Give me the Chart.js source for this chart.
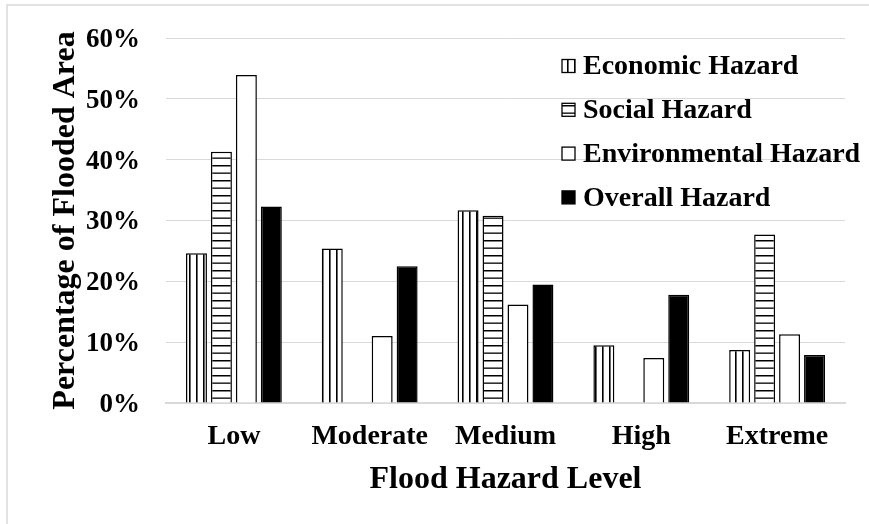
<!DOCTYPE html>
<html>
<head>
<meta charset="utf-8">
<script src="https://cdn.jsdelivr.net/npm/chart.js@4"></script>
<style>
  html, body { margin: 0; padding: 0; background: #fff; }
  #wrap { width: 869px; height: 524px; }
</style>
</head>
<body>
<div id="wrap"><canvas id="chart" width="869" height="524"></canvas></div>
<script>
// -------------------------
// DATA
// -------------------------
const levels = ["Low", "Moderate", "Medium", "High", "Extreme"];
const economic = [24.6, 25.4, 31.7, 9.5, 8.7];
const social = [41.3, null, 30.8, null, 27.7];
const environmental = [53.9, 11.0, 16.2, 7.4, 11.3];
const overall = [32.3, 22.5, 19.5, 17.8, 7.9];
const yTicks = [0, 10, 20, 30, 40, 50, 60];

const FONT = "'Liberation Serif', 'Times New Roman', serif";
const GRID = "#d9d9d9";

// -------------------------
// Patterns
// -------------------------
function vLines() {
  const c = document.createElement("canvas"); c.width = 7; c.height = 7;
  const g = c.getContext("2d");
  g.fillStyle = "#fff"; g.fillRect(0, 0, 7, 7);
  g.fillStyle = "#000"; g.fillRect(0, 0, 1.6, 7);
  return g.createPattern(c, "repeat");
}
function hLines() {
  const c = document.createElement("canvas"); c.width = 15; c.height = 15;
  const g = c.getContext("2d");
  g.fillStyle = "#fff"; g.fillRect(0, 0, 15, 15);
  g.fillStyle = "#000"; g.fillRect(0, 0, 15, 1.5); g.fillRect(0, 7.5, 15, 1.3);
  return g.createPattern(c, "repeat");
}
const ctx = document.getElementById("chart").getContext("2d");
const econFill = vLines();
const socialFill = hLines();

// -------------------------
// Plugins: frame + legend
// -------------------------
const framePlugin = {
  id: "frame",
  beforeDraw(chart) {
    const c = chart.ctx;
    c.save();
    c.fillStyle = "#fff"; c.fillRect(0, 0, chart.width, chart.height);
    c.strokeStyle = GRID; c.lineWidth = 1.5;
    c.beginPath(); c.moveTo(7, chart.height); c.lineTo(7, 5); c.lineTo(chart.width, 5); c.stroke();
    c.restore();
  }
};
const legendPlugin = {
  id: "sideLegend",
  afterDraw(chart) {
    const c = chart.ctx;
    c.save();
    c.font = "bold 28px " + FONT;
    c.textBaseline = "middle";
    c.textAlign = "left";
    chart.data.datasets.forEach((ds, i) => {
      const y = 66 + i * 43.8;
      c.fillStyle = ds.backgroundColor;
      c.fillRect(562, y - 6.5, 13, 13);
      c.strokeStyle = "#000"; c.lineWidth = 1.3;
      c.strokeRect(562, y - 6.5, 13, 13);
      c.fillStyle = "#000";
      c.fillText(ds.label, 583, y + 1);
    });
    c.restore();
  }
};

// -------------------------
// Chart
// -------------------------
const barStyle = { borderColor: "#000", borderWidth: 1.5, categoryPercentage: 0.735, barPercentage: 0.84 };
new Chart(ctx, {
  type: "bar",
  data: {
    labels: levels,
    datasets: [
      { label: "Economic Hazard", data: economic, backgroundColor: econFill, ...barStyle },
      { label: "Social Hazard", data: social, backgroundColor: socialFill, ...barStyle },
      { label: "Environmental Hazard", data: environmental, backgroundColor: "#fff", ...barStyle },
      { label: "Overall Hazard", data: overall, backgroundColor: "#000", ...barStyle }
    ]
  },
  options: {
    responsive: false,
    animation: false,
    layout: { padding: { top: 38, right: 24, left: 0, bottom: 0 }, autoPadding: false },
    plugins: { legend: { display: false }, tooltip: { enabled: false } },
    scales: {
      x: {
        grid: { display: false, drawTicks: false },
        border: { display: true, color: GRID, width: 2 },
        ticks: { color: "#000", padding: 17, font: { family: FONT, size: 28, weight: "bold" } },
        title: { display: true, text: "Flood Hazard Level", color: "#000", padding: { top: 0, bottom: 25 },
                 font: { family: FONT, size: 32, weight: "bold" } },
        afterFit: s => { s.height = 121; s.paddingLeft = 0; s.paddingRight = 0; }
      },
      y: {
        min: 0, max: 60,
        grid: { color: GRID, lineWidth: 1, drawTicks: false },
        border: { display: false },
        afterBuildTicks: s => { s.ticks = yTicks.map(v => ({ value: v })); },
        ticks: { color: "#000", padding: 26, labelOffset: 2, callback: v => v + "%", font: { family: FONT, size: 27, weight: "bold" } },
        title: { display: true, text: "Percentage of Flooded Area", color: "#000", padding: { top: 47, bottom: 0 },
                 font: { family: FONT, size: 32, weight: "bold" } },
        afterFit: s => { s.width = 166; s.paddingTop = 0; s.paddingBottom = 0; }
      }
    }
  },
  plugins: [framePlugin, legendPlugin]
});
</script>
</body>
</html>
